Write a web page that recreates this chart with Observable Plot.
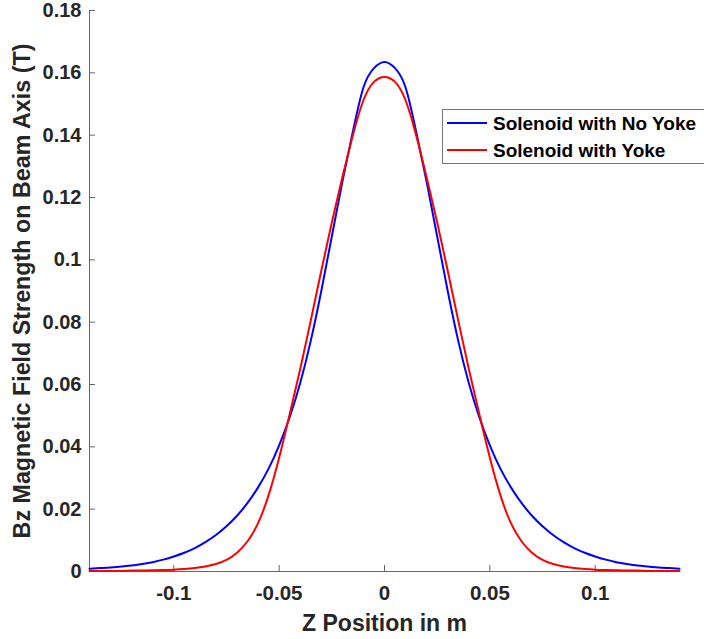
<!DOCTYPE html>
<html>
<head>
<meta charset="utf-8">
<script src="https://cdn.jsdelivr.net/npm/d3@7"></script>
<script src="https://cdn.jsdelivr.net/npm/@observablehq/plot@0.6"></script>
<style>
  html, body { margin: 0; padding: 0; background: #fff; }
</style>
</head>
<body>
<div id="chart"></div>
<script>
const zPos = [
  -0.140, -0.135, -0.130, -0.125, -0.120, -0.115, -0.110, -0.105, -0.100, -0.095,
  -0.090, -0.085, -0.080, -0.075, -0.070, -0.065, -0.060, -0.055, -0.050, -0.045,
  -0.040, -0.035, -0.030, -0.025, -0.020, -0.015, -0.010, -0.005, 0.000,
  0.005, 0.010, 0.015, 0.020, 0.025, 0.030, 0.035, 0.040, 0.045, 0.050,
  0.055, 0.060, 0.065, 0.070, 0.075, 0.080, 0.085, 0.090, 0.095, 0.100,
  0.105, 0.110, 0.115, 0.120, 0.125, 0.130, 0.135, 0.140
];
const bNoYoke = [
  0.0009, 0.0011, 0.0013, 0.0016, 0.0019, 0.0024, 0.0030, 0.0038, 0.0048, 0.0060,
  0.0075, 0.0094, 0.0117, 0.0145, 0.0179, 0.0220, 0.0270, 0.0330, 0.0405, 0.0495,
  0.0605, 0.0740, 0.0900, 0.1075, 0.1250, 0.1412, 0.1553, 0.1615, 0.1635,
  0.1615, 0.1553, 0.1412, 0.1250, 0.1075, 0.0900, 0.0740, 0.0605, 0.0495, 0.0405,
  0.0330, 0.0270, 0.0220, 0.0179, 0.0145, 0.0117, 0.0094, 0.0075, 0.0060, 0.0048,
  0.0038, 0.0030, 0.0024, 0.0019, 0.0016, 0.0013, 0.0011, 0.0009
];
const bYoke = [
  0.0002, 0.0002, 0.0002, 0.0002, 0.0003, 0.0003, 0.0004, 0.0005, 0.0006, 0.0008,
  0.0011, 0.0016, 0.0024, 0.0037, 0.0060, 0.0097, 0.0155, 0.0245, 0.0365, 0.0505,
  0.0650, 0.0805, 0.0965, 0.1120, 0.1265, 0.1400, 0.1512, 0.1571, 0.1587,
  0.1571, 0.1512, 0.1400, 0.1265, 0.1120, 0.0965, 0.0805, 0.0650, 0.0505, 0.0365,
  0.0245, 0.0155, 0.0097, 0.0060, 0.0037, 0.0024, 0.0016, 0.0011, 0.0008, 0.0006,
  0.0005, 0.0004, 0.0003, 0.0003, 0.0002, 0.0002, 0.0002, 0.0002
];
const seriesNames = ["Solenoid with No Yoke", "Solenoid with Yoke"];
const seriesColors = ["#0000ff", "#ff0000"];
const xTicks = [-0.1, -0.05, 0, 0.05, 0.1];
const xTickLabels = ["-0.1", "-0.05", "0", "0.05", "0.1"];
const yTicks = [0, 0.02, 0.04, 0.06, 0.08, 0.1, 0.12, 0.14, 0.16, 0.18];
const yTickLabels = ["0", "0.02", "0.04", "0.06", "0.08", "0.1", "0.12", "0.14", "0.16", "0.18"];
const xLabel = "Z Position in m";
const yLabel = "Bz Magnetic Field Strength on Beam Axis (T)";

const W = 704, H = 639;
const mL = 89, mR = 25, mT = 10, mB = 68;
const innerW = W - mL - mR, innerH = H - mT - mB;
const axisColor = "#666";
const FONT = "'Liberation Sans', Arial, Helvetica, sans-serif";

const blueData = zPos.map((z, i) => ({z, b: bNoYoke[i]}));
const redData = zPos.map((z, i) => ({z, b: bYoke[i]}));

const plot = Plot.plot({
  width: W,
  height: H,
  marginLeft: mL,
  marginRight: mR,
  marginTop: mT,
  marginBottom: mB,
  style: {fontFamily: FONT, fontWeight: "bold", color: "#262626", background: "#fff", overflow: "visible"},
  x: {domain: [-0.14, 0.14]},
  y: {domain: [0, 0.18]},
  marks: [
    Plot.ruleY([0], {stroke: axisColor, strokeWidth: 1}),
    Plot.ruleX([-0.14], {stroke: axisColor, strokeWidth: 1}),
    Plot.tickX(xTicks, {x: d => d, insetTop: innerH - 6, stroke: axisColor, strokeWidth: 1}),
    Plot.tickY(yTicks, {y: d => d, insetRight: innerW - 6, stroke: axisColor, strokeWidth: 1}),
    Plot.axisX(xTicks, {
      tickSize: 0, tickPadding: 14, fontSize: 20.5, fontWeight: "bold",
      tickFormat: d => xTickLabels[xTicks.indexOf(d)], label: null
    }),
    Plot.axisY(yTicks, {
      tickSize: 0, tickPadding: 8, fontSize: 20, fontWeight: "bold",
      tickFormat: d => yTickLabels[yTicks.indexOf(d)], label: null
    }),
    Plot.text([xLabel], {frameAnchor: "bottom", dy: 59, lineAnchor: "bottom", textAnchor: "middle", fontSize: 23, fontWeight: "bold", fill: "#262626"}),
    Plot.text([yLabel], {frameAnchor: "left", rotate: -90, dx: -76, lineAnchor: "top", textAnchor: "middle", fontSize: 23.3, fontWeight: "bold", fill: "#262626"}),
    Plot.line(blueData, {x: "z", y: "b", stroke: seriesColors[0], strokeWidth: 2, curve: "natural"}),
    Plot.line(redData, {x: "z", y: "b", stroke: seriesColors[1], strokeWidth: 2, curve: "natural"})
  ]
});

document.getElementById("chart").appendChild(plot);

// legend
const svg = d3.select(plot);
const lg = svg.append("g").attr("font-family", FONT).attr("font-weight", "bold").attr("text-anchor", "start");
lg.append("rect").attr("x", 442.5).attr("y", 109.5).attr("width", 280).attr("height", 54)
  .attr("fill", "#fff").attr("stroke", "#777").attr("stroke-width", 1);
seriesNames.forEach((name, i) => {
  const cy = 123 + i * 27;
  lg.append("line").attr("x1", 447).attr("x2", 487).attr("y1", cy).attr("y2", cy)
    .attr("stroke", seriesColors[i]).attr("stroke-width", 2);
  lg.append("text").attr("x", 493).attr("y", cy).attr("dy", "0.35em")
    .attr("text-anchor", "start")
    .attr("font-size", 19).attr("fill", "#000").text(name);
});
</script>
</body>
</html>
